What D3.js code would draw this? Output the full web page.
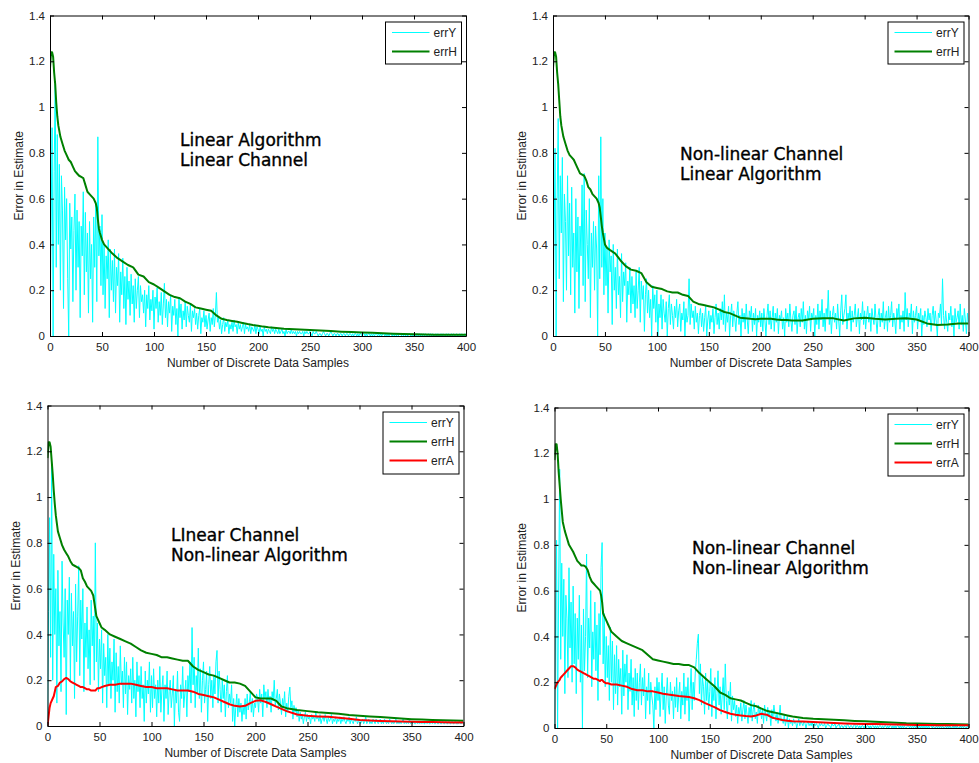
<!DOCTYPE html>
<html>
<head>
<meta charset="utf-8">
<script src="https://cdn.jsdelivr.net/npm/d3@7"></script>
<style>
  html, body { margin: 0; padding: 0; background: #fff; }
  svg text { font-family: "Liberation Sans", Arial, sans-serif; }
</style>
</head>
<body>
<svg id="fig" width="979" height="763"></svg>
<script>
// ---------- axis ticks ----------
const sampleTicks = [0, 50, 100, 150, 200, 250, 300, 350, 400];
const errorTicks = [0, 0.2, 0.4, 0.6, 0.8, 1, 1.2, 1.4];
const errorTickLabels = ["0", "0.2", "0.4", "0.6", "0.8", "1", "1.2", "1.4"];
const xTitle = "Number of Discrete Data Samples";
const yTitle = "Error in Estimate";

// ---------- errY : per-sample error of the received signal, in hundredths (samples 0..400) ----------
const errY_linChan_linAlg = [
  0,45,91,0,72,110,30,88,40,75,20,70,55,12,65,42,60,25,0,58,
  38,52,15,46,62,20,55,30,50,8,48,35,63,18,54,28,45,10,50,25,
  40,6,52,30,58,15,87,35,48,22,53,18,40,12,35,25,42,8,38,20,
  33,15,38,10,30,22,36,6,28,18,34,12,26,5,30,16,24,9,27,14,
  22,6,25,12,20,26,8,22,15,18,10,20,4,18,12,22,7,16,11,20,
  3,17,12,21,6,15,9,19,5,14,23,8,16,4,15,10,18,2,13,9,
  16,5,12,0,17,8,14,3,11,7,15,4,13,9,6,14,2,11,8,12,
  5,10,3,9,12,1,8,6,11,4,9,3,7,10,2,8,5,12,4,9,
  19,6,8,3,7,1,5,8,2,6,4,7,1,5,3,6,2,7,4,5,
  1,6,3,5,2,4,6,1,5,3,4,2,5,1,4,3,2,5,1,4,
  3,1,4,2,3,0,4,2,3,1,3,2,1,4,2,3,1,3,2,1,
  3,1,2,3,1,2,0,3,1,2,2,1,3,1,2,1,2,0,2,1,
  2,1,1,2,0,2,1,2,1,1,2,1,0,2,1,1,2,1,0,1,
  1,0,1,2,1,0,1,1,0,1,2,1,0,1,1,0,1,1,0,1,
  1,0,1,1,0,1,1,0,1,1,0,1,0,1,1,0,1,0,1,1,
  0,1,1,0,1,0,1,1,0,1,0,1,0,1,1,0,1,0,1,0,
  1,1,0,1,0,1,0,1,1,0,1,0,1,0,1,0,1,1,0,1,
  0,1,0,1,0,1,1,0,1,0,1,0,0,1,0,1,0,1,0,1,
  0,1,0,0,1,0,1,0,1,0,0,1,0,1,0,0,1,0,1,0,
  0,1,0,1,0,0,1,0,1,0,0,1,0,0,1,0,1,0,0,1,
  0
];
const errY_nonlinChan_linAlg = [
  0,40,82,0,60,95,25,70,45,78,15,62,50,20,70,35,58,18,65,30,
  45,10,60,28,52,12,48,35,66,22,71,15,55,40,25,60,8,45,30,50,
  20,48,38,0,70,25,87,30,60,18,45,22,38,10,42,28,35,5,40,20,
  30,12,38,18,26,8,36,15,28,22,32,6,24,18,30,10,26,14,22,8,
  28,12,20,30,6,24,16,22,2,18,25,10,20,8,16,0,22,12,18,6,
  20,0,14,8,18,3,16,10,6,15,0,12,18,5,14,9,3,13,8,16,
  4,11,14,2,10,7,15,0,12,6,9,25,5,14,8,11,3,13,6,10,
  1,9,12,4,10,2,8,13,0,7,11,3,9,6,12,1,8,14,5,10,
  3,12,7,15,5,18,2,10,6,13,0,9,14,4,11,8,2,10,15,5,
  9,0,12,6,10,3,14,7,1,11,8,13,2,10,5,12,0,9,6,11,
  4,10,2,12,7,0,9,14,5,11,3,8,13,2,10,6,12,1,9,7,
  11,3,8,0,12,6,10,4,14,7,2,9,11,5,13,1,8,10,4,12,
  6,15,3,9,1,11,7,13,2,10,8,12,0,9,5,14,3,11,7,16,
  4,10,2,12,8,20,5,11,1,9,13,6,10,3,14,7,0,11,18,5,
  9,12,18,3,10,7,13,2,11,6,9,14,4,8,12,1,10,7,15,5,
  11,3,9,13,6,10,2,12,8,5,14,7,1,9,12,4,10,6,15,3,
  8,11,2,13,6,9,15,4,10,7,1,12,8,14,3,9,6,11,2,19,
  7,12,4,10,8,14,1,11,6,9,13,3,10,7,12,0,9,5,11,8,
  4,12,7,10,2,9,13,5,11,6,0,10,8,14,5,25,9,3,11,6,
  2,10,7,13,4,9,0,12,6,8,11,3,14,5,9,2,12,7,1,10,
  6
];
const errY_linChan_nonlinAlg = [
  0,50,91,30,115,20,75,40,60,10,68,35,50,15,72,45,30,60,5,55,
  40,65,20,58,35,50,12,62,28,48,70,22,55,38,60,15,45,30,52,25,
  42,18,55,35,48,20,80,28,45,15,38,25,42,10,36,22,30,8,40,18,
  34,12,28,20,38,6,32,15,26,10,35,18,24,8,30,14,28,5,22,16,
  25,10,30,12,20,4,28,15,22,8,26,12,18,2,24,10,20,14,28,6,
  22,8,25,12,18,4,20,10,26,6,16,22,2,18,12,24,5,15,20,8,
  14,22,0,16,10,24,6,2,18,12,26,8,14,20,4,22,15,28,10,43,
  18,30,8,22,14,34,12,25,6,20,28,10,16,24,2,18,26,12,20,8,
  22,14,28,33,10,24,16,6,20,12,18,4,15,22,8,14,10,18,2,12,
  0,8,14,4,12,6,10,2,9,5,12,3,14,7,10,15,6,12,4,10,
  8,14,12,6,16,10,14,4,18,12,15,8,16,10,13,6,15,11,20,9,
  12,16,7,14,10,5,12,8,15,4,10,6,13,17,8,11,3,9,6,8,
  4,7,2,6,3,5,1,4,6,2,5,3,4,1,5,3,4,2,6,3,
  4,2,5,1,3,4,2,5,3,1,4,2,3,5,1,3,2,4,1,3,
  2,4,1,3,2,4,2,1,3,2,4,1,3,2,1,3,2,4,1,2,
  3,1,2,3,1,2,4,1,2,3,1,2,1,3,2,1,3,2,1,2,
  3,1,2,1,3,2,1,2,1,3,2,1,2,1,2,3,1,2,1,2,
  1,2,3,1,2,1,2,1,3,1,2,1,2,1,1,2,1,2,1,2,
  1,2,1,1,2,1,2,1,1,2,1,2,1,1,2,1,1,2,1,1,
  2,1,1,2,1,1,2,1,1,2,1,1,2,1,1,1,2,1,1,2,
  1
];
const errY_nonlinChan_nonlinAlg = [
  0,45,82,0,60,113,30,72,40,65,15,58,48,22,70,35,55,20,62,28,
  50,15,48,30,58,20,45,0,52,25,40,76,22,48,35,60,18,42,30,55,
  25,45,12,50,32,70,81,28,50,18,40,22,36,12,44,20,38,8,32,15,
  36,10,30,18,26,6,34,14,28,20,32,8,24,16,30,10,22,5,26,12,
  24,8,20,28,10,22,14,26,4,18,12,24,6,20,14,10,0,18,8,22,
  12,20,5,16,24,8,18,2,14,22,10,6,20,12,16,4,18,9,22,7,
  14,20,4,16,10,24,6,18,12,22,3,15,26,8,20,12,24,30,37,41,
  15,28,10,22,18,6,24,12,20,8,16,26,5,18,12,22,4,15,25,10,
  18,6,14,22,8,28,12,4,16,10,20,3,14,8,12,5,10,2,9,6,
  11,3,8,12,4,10,6,2,9,5,12,3,8,11,4,7,2,10,6,9,
  4,8,2,10,6,3,9,5,7,1,8,4,10,6,3,7,2,5,10,3,
  4,2,6,1,3,5,0,4,2,3,1,4,2,3,0,2,4,1,3,2,
  1,3,2,0,2,3,1,2,1,3,0,2,1,2,1,0,2,1,2,1,
  1,2,0,1,2,1,1,0,2,1,1,2,0,1,1,2,0,1,1,0,
  1,1,0,2,1,0,1,1,0,1,2,0,1,1,0,1,0,1,1,0,
  1,0,1,1,0,1,0,1,1,0,1,0,1,0,1,1,0,1,0,1,
  1,0,1,0,1,1,0,1,0,1,0,1,1,0,1,0,1,0,1,0,
  0,1,1,0,1,0,1,0,1,0,1,1,0,1,0,1,0,1,0,1,
  0,1,0,1,1,0,1,0,0,1,0,1,0,1,0,1,0,0,1,0,
  1,0,1,0,0,1,0,1,0,1,0,0,1,0,1,0,1,0,0,1,
  0
];

// ---------- errH / errA : estimator error curves at these sample indices ----------
const curveX = [
  0,1,2,3,4,5,6,7,8,10,
  12,14,16,18,20,22,24,26,28,30,
  32,34,36,38,40,42,44,45,46,47,
  48,50,52,55,60,65,70,75,80,85,
  90,95,100,105,110,115,120,125,130,135,
  140,145,150,155,160,165,170,175,180,185,
  190,195,200,205,210,215,220,225,230,240,
  250,260,270,280,290,300,310,320,330,340,
  350,360,370,380,390,400
];
const errH_linChan_linAlg = [
  1.17,1.24,1.24,1.22,1.15,1.10,1.02,0.96,0.92,0.87,
  0.84,0.81,0.79,0.77,0.76,0.74,0.72,0.71,0.70,0.695,
  0.69,0.66,0.63,0.62,0.61,0.60,0.58,0.56,0.51,0.47,
  0.45,0.42,0.40,0.385,0.36,0.34,0.325,0.31,0.30,0.268,
  0.26,0.235,0.225,0.21,0.195,0.18,0.17,0.165,0.15,0.14,
  0.125,0.12,0.115,0.11,0.09,0.075,0.07,0.066,0.062,0.057,
  0.052,0.048,0.045,0.041,0.038,0.036,0.034,0.032,0.031,0.028,
  0.026,0.024,0.022,0.019,0.017,0.015,0.014,0.012,0.010,0.009,
  0.008,0.007,0.006,0.006,0.005,0.005
];
const errH_nonlinChan_linAlg = [
  1.17,1.24,1.24,1.22,1.15,1.10,1.03,0.96,0.92,0.87,
  0.84,0.81,0.79,0.78,0.77,0.75,0.73,0.71,0.705,0.70,
  0.68,0.65,0.64,0.62,0.61,0.60,0.58,0.56,0.52,0.48,
  0.45,0.40,0.385,0.375,0.36,0.33,0.305,0.29,0.285,0.275,
  0.235,0.215,0.21,0.205,0.195,0.19,0.19,0.18,0.175,0.15,
  0.14,0.135,0.13,0.125,0.115,0.105,0.10,0.09,0.08,0.078,
  0.075,0.073,0.075,0.075,0.075,0.072,0.07,0.07,0.068,0.068,
  0.075,0.077,0.077,0.068,0.077,0.08,0.075,0.072,0.075,0.078,
  0.072,0.055,0.048,0.05,0.055,0.055
];
const errH_linChan_nonlinAlg = [
  1.17,1.24,1.24,1.22,1.16,1.10,1.03,0.97,0.92,0.85,
  0.82,0.79,0.77,0.755,0.74,0.72,0.705,0.70,0.695,0.69,
  0.68,0.645,0.63,0.61,0.60,0.59,0.57,0.54,0.51,0.48,
  0.47,0.45,0.43,0.42,0.40,0.39,0.38,0.37,0.36,0.345,
  0.33,0.32,0.315,0.31,0.30,0.30,0.295,0.29,0.285,0.285,
  0.26,0.245,0.235,0.225,0.22,0.21,0.20,0.19,0.19,0.185,
  0.175,0.15,0.125,0.12,0.12,0.12,0.11,0.085,0.078,0.07,
  0.065,0.06,0.057,0.053,0.048,0.045,0.042,0.039,0.036,0.033,
  0.03,0.028,0.026,0.025,0.024,0.023
];
const errA_linChan_nonlinAlg = [
  0.0,0.04,0.08,0.10,0.11,0.12,0.13,0.15,0.17,0.175,
  0.19,0.195,0.205,0.21,0.205,0.195,0.19,0.185,0.18,0.175,
  0.17,0.17,0.165,0.16,0.16,0.155,0.155,0.155,0.155,0.16,
  0.165,0.165,0.17,0.175,0.18,0.18,0.185,0.185,0.185,0.18,
  0.175,0.17,0.17,0.165,0.165,0.165,0.16,0.155,0.155,0.155,
  0.15,0.14,0.135,0.13,0.125,0.115,0.105,0.095,0.088,0.085,
  0.088,0.10,0.11,0.112,0.105,0.095,0.085,0.075,0.065,0.05,
  0.045,0.042,0.04,0.036,0.032,0.026,0.024,0.022,0.021,0.02,
  0.019,0.018,0.017,0.016,0.015,0.015
];
const errH_nonlinChan_nonlinAlg = [
  1.17,1.24,1.24,1.20,1.12,1.06,1.00,0.95,0.90,0.86,
  0.83,0.80,0.785,0.77,0.75,0.73,0.72,0.71,0.71,0.705,
  0.69,0.66,0.64,0.63,0.62,0.61,0.60,0.58,0.55,0.50,
  0.49,0.47,0.45,0.42,0.40,0.38,0.37,0.36,0.35,0.34,
  0.32,0.30,0.295,0.29,0.285,0.28,0.28,0.275,0.275,0.265,
  0.24,0.22,0.20,0.18,0.155,0.145,0.13,0.125,0.12,0.11,
  0.10,0.095,0.085,0.075,0.07,0.065,0.06,0.055,0.05,0.044,
  0.04,0.038,0.036,0.034,0.031,0.029,0.027,0.025,0.023,0.021,
  0.02,0.019,0.018,0.017,0.016,0.015
];
const errA_nonlinChan_nonlinAlg = [
  0.17,0.18,0.19,0.20,0.205,0.21,0.22,0.225,0.23,0.24,
  0.25,0.26,0.27,0.27,0.265,0.255,0.25,0.245,0.24,0.235,
  0.23,0.225,0.22,0.215,0.215,0.21,0.205,0.21,0.21,0.205,
  0.20,0.195,0.195,0.19,0.19,0.185,0.18,0.17,0.165,0.165,
  0.16,0.16,0.155,0.15,0.146,0.143,0.14,0.138,0.135,0.13,
  0.122,0.11,0.10,0.09,0.078,0.07,0.062,0.058,0.055,0.052,
  0.05,0.055,0.062,0.058,0.046,0.04,0.035,0.032,0.03,0.028,
  0.026,0.024,0.022,0.02,0.019,0.018,0.017,0.016,0.015,0.014,
  0.013,0.013,0.012,0.012,0.012,0.012
];

// ---------- panel layout ----------
const panels = [
  { left: 50,  right: 466, top: 15.5,  bottom: 336,
    errY: errY_linChan_linAlg, errH: errH_linChan_linAlg, errA: null,
    notes: ["Linear Algorithm", "Linear Channel"], noteX: 180, noteY: 146,
    yTitleX: 22.5 },
  { left: 553, right: 968.5, top: 15.5,  bottom: 336,
    errY: errY_nonlinChan_linAlg, errH: errH_nonlinChan_linAlg, errA: null,
    notes: ["Non-linear Channel", "Linear Algorithm"], noteX: 680, noteY: 160,
    yTitleX: 525.5 },
  { left: 47.5, right: 463.5, top: 405.5, bottom: 726,
    errY: errY_linChan_nonlinAlg, errH: errH_linChan_nonlinAlg, errA: errA_linChan_nonlinAlg,
    notes: ["LInear Channel", "Non-linear Algorithm"], noteX: 171, noteY: 540.5,
    yTitleX: 19.5 },
  { left: 554.5, right: 968.5, top: 407.5, bottom: 728,
    errY: errY_nonlinChan_nonlinAlg, errH: errH_nonlinChan_nonlinAlg, errA: errA_nonlinChan_nonlinAlg,
    notes: ["Non-linear Channel", "Non-linear Algorithm"], noteX: 692, noteY: 553.5,
    yTitleX: 526 }
];

const COLORS = { errY: "#00ffff", errH: "#008000", errA: "#ff0000" };
const WIDTHS = { errY: 1, errH: 2, errA: 2 };

const svg = d3.select("#fig");

panels.forEach((p, i) => {
  const g = svg.append("g");
  const x = d3.scaleLinear().domain([0, 400]).range([p.left, p.right]);
  const y = d3.scaleLinear().domain([0, 1.4]).range([p.bottom, p.top]);

  const clipId = "clip" + i;
  svg.append("defs").append("clipPath").attr("id", clipId)
    .append("rect")
    .attr("x", p.left).attr("y", p.top)
    .attr("width", p.right - p.left).attr("height", p.bottom - p.top);

  const plot = g.append("g").attr("clip-path", `url(#${clipId})`);

  // errY: one value per sample, stored in hundredths
  const lineY = d3.line().x((d, k) => x(k)).y(d => y(d / 100));
  plot.append("path").datum(p.errY)
    .attr("d", lineY).attr("fill", "none")
    .attr("stroke", COLORS.errY).attr("stroke-width", WIDTHS.errY);

  const lineCurve = d3.line().x((d, k) => x(curveX[k])).y(d => y(d));
  plot.append("path").datum(p.errH)
    .attr("d", lineCurve).attr("fill", "none")
    .attr("stroke", COLORS.errH).attr("stroke-width", WIDTHS.errH)
    .attr("stroke-linejoin", "round");
  if (p.errA) {
    plot.append("path").datum(p.errA)
      .attr("d", lineCurve).attr("fill", "none")
      .attr("stroke", COLORS.errA).attr("stroke-width", WIDTHS.errA)
      .attr("stroke-linejoin", "round");
  }

  // axes: ticks point inward on all four sides
  const styleAxis = sel => {
    sel.selectAll("path.domain").attr("stroke", "#000");
    sel.selectAll(".tick line").attr("stroke", "#000");
    sel.selectAll("text").attr("fill", "#222")
      .style("font-family", '"Liberation Sans", Arial, sans-serif')
      .style("font-size", "11.5px");
  };
  g.append("g").attr("transform", `translate(0,${p.bottom})`)
    .call(d3.axisBottom(x).tickValues(sampleTicks).tickSize(-4).tickSizeOuter(0).tickPadding(7))
    .call(styleAxis);
  g.append("g").attr("transform", `translate(0,${p.top})`)
    .call(d3.axisTop(x).tickValues(sampleTicks).tickSize(-4).tickSizeOuter(0).tickFormat(""))
    .call(styleAxis);
  g.append("g").attr("transform", `translate(${p.left},0)`)
    .call(d3.axisLeft(y).tickValues(errorTicks).tickSize(-4).tickSizeOuter(0).tickPadding(5)
      .tickFormat((d, k) => errorTickLabels[k]))
    .call(styleAxis);
  g.append("g").attr("transform", `translate(${p.right},0)`)
    .call(d3.axisRight(y).tickValues(errorTicks).tickSize(-4).tickSizeOuter(0).tickFormat(""))
    .call(styleAxis);
  g.selectAll(".domain").attr("fill", "none");

  // axis titles
  g.append("text")
    .attr("x", (p.left + p.right) / 2).attr("y", p.bottom + 31)
    .attr("text-anchor", "middle").attr("fill", "#222")
    .style("font-size", "12px").text(xTitle);
  g.append("text")
    .attr("transform", `translate(${p.yTitleX},${(p.top + p.bottom) / 2}) rotate(-90)`)
    .attr("text-anchor", "middle").attr("fill", "#222")
    .style("font-size", "12px").text(yTitle);

  // annotation
  const note = g.append("text")
    .attr("x", p.noteX).attr("y", p.noteY)
    .style("font-family", '"DejaVu Sans", sans-serif')
    .style("font-size", "17px").attr("fill", "#000")
    .attr("stroke", "#000").attr("stroke-width", 0.35);
  p.notes.forEach((t, k) => {
    note.append("tspan").attr("x", p.noteX).attr("dy", k === 0 ? 0 : 20).text(t);
  });

  // legend
  const entries = [["errY", "errY"], ["errH", "errH"]];
  if (p.errA) entries.push(["errA", "errA"]);
  const boxW = 76, rowH = 19;
  const boxH = entries.length === 2 ? 42 : 62;
  const bx = p.right - 4.5 - boxW, by = p.top + 6.5;
  const leg = g.append("g");
  leg.append("rect").attr("x", bx).attr("y", by).attr("width", boxW).attr("height", boxH)
    .attr("fill", "#fff").attr("stroke", "#000").attr("stroke-width", 1);
  entries.forEach(([key, label], k) => {
    const ly = by + 10.5 + k * rowH;
    leg.append("line").attr("x1", bx + 6.5).attr("x2", bx + 44).attr("y1", ly).attr("y2", ly)
      .attr("stroke", COLORS[key]).attr("stroke-width", WIDTHS[key]);
    leg.append("text").attr("x", bx + 48).attr("y", ly).attr("dy", "0.35em")
      .attr("fill", "#222").style("font-size", "12px").text(label);
  });
});
</script>
</body>
</html>
